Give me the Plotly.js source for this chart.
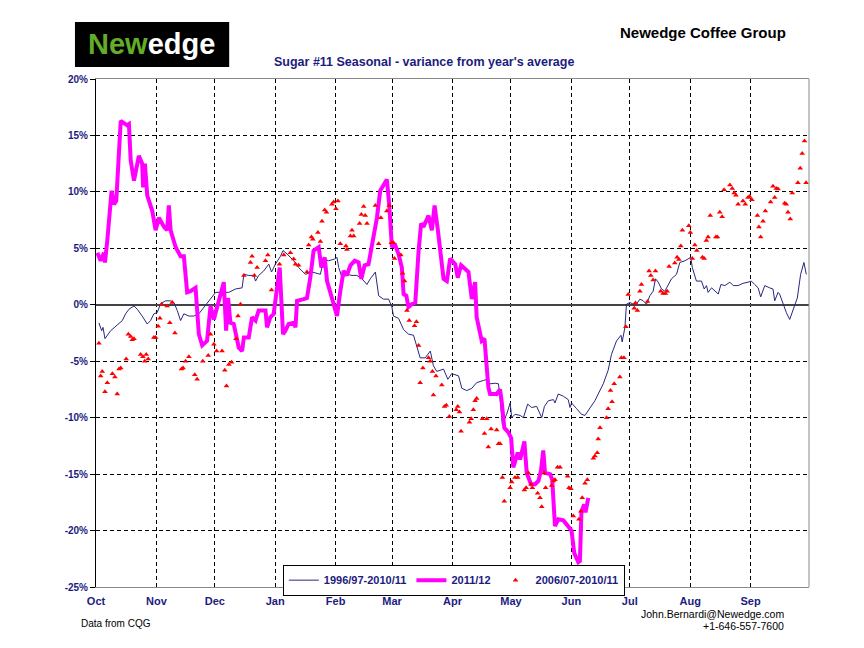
<!DOCTYPE html>
<html>
<head>
<meta charset="utf-8">
<script src="https://cdn.plot.ly/plotly-3.0.1.min.js"></script>
<style>html,body{margin:0;padding:0;background:#fff;}#chart{width:864px;height:648px;}</style>
</head>
<body>
<div id="chart"></div>
<script>
// Month labels and their day offsets within the season (Oct 1 = day 0)
const monthLabels = ['Oct','Nov','Dec','Jan','Feb','Mar','Apr','May','Jun','Jul','Aug','Sep'];
const monthStartDays = [0,31,61,92,123,152,183,213,244,274,305,336];
const yTickVals = [-25,-20,-15,-10,-5,0,5,10,15,20];
const yTickText = ['-25%','-20%','-15%','-10%','-5%','0%','5%','10%','15%','20%'];

// Series 1: 1996/97-2010/11 average (navy line)
const avgName = '1996/97-2010/11';
const avgDays = [1.5,2.9,3.6,4.6,7.5,10.1,11.8,13.5,15.2,16.9,19.5,21.2,23.7,26.3,28.0,29.7,31.4,33.2,35.7,38.3,40.0,41.7,43.4,45.1,47.7,50.2,52.8,55.4,57.9,61.4,64.7,68.2,71.6,75.0,75.9,78.4,81.0,81.9,83.5,86.1,88.7,90.1,92.1,94.7,96.0,98.1,101.5,104.0,107.5,110.9,115.2,116.9,119.4,122.5,123.7,124.6,126.3,128.8,131.4,133.9,136.5,139.1,140.8,143.4,145.1,147.6,150.2,151.9,152.7,155.3,157.9,160.4,163.0,164.7,166.4,169.0,171.6,173.2,174.9,178.4,180.6,182.6,186.1,187.8,190.3,192.9,195.4,198.9,201.1,202.3,204.9,206.6,207.4,208.6,210.8,212.6,213.4,215.1,217.7,219.4,221.6,223.6,226.2,228.8,230.2,232.2,234.8,235.6,237.3,239.9,242.4,243.3,244.1,246.7,249.2,251.0,253.6,256.1,257.8,260.4,262.9,264.6,267.2,269.5,270.1,271.5,272.3,274.1,275.8,277.4,279.2,280.9,282.6,284.3,286.0,287.2,288.6,290.3,292.0,293.7,295.4,298.0,299.7,302.3,305.3,306.1,308.2,310.8,312.2,313.4,314.2,316.0,317.7,319.4,320.8,322.8,325.4,327.1,329.6,332.1,334.7,336.4,338.1,339.9,341.2,343.3,345.8,347.5,348.4,350.1,350.9,352.7,354.4,356.1,358.3,360.0,361.7,363.4,364.6];
const avgVals = [-1.6,-2.3,-2.0,-3.0,-2.3,-1.9,-1.6,-1.4,-0.8,-0.4,-0.1,-0.4,-1.0,-1.7,-1.4,-0.8,-0.7,0.1,0.35,0.35,0.2,-0.5,-1.4,-0.8,-1.0,-1.0,-0.8,-0.2,0.35,1.1,1.1,1.1,1.4,1.5,2.7,2.6,2.6,2.1,2.6,3.0,3.6,2.9,3.6,4.3,4.8,4.5,3.9,3.3,2.7,2.9,2.7,4.05,3.9,4.05,4.2,3.3,2.4,2.7,2.6,2.6,2.3,1.8,2.3,2.9,0.8,0.5,0.5,-0.2,-1.0,-1.2,-2.2,-2.6,-2.7,-3.6,-4.7,-4.7,-4.1,-5.4,-5.9,-5.7,-6.6,-6.1,-6.3,-7.4,-7.6,-7.4,-6.9,-6.7,-6.6,-7.0,-6.95,-7.0,-8.2,-10.6,-9.7,-8.7,-10.0,-9.7,-9.8,-10.0,-8.8,-9.1,-9.0,-10.0,-9.0,-8.5,-8.4,-8.7,-7.9,-8.1,-8.4,-9.1,-8.7,-9.2,-9.7,-9.8,-9.1,-8.5,-7.9,-7.0,-5.8,-4.4,-3.2,-2.7,-3.3,-2.0,0.05,0.2,0.05,0.05,0.5,0.35,0.05,0.8,1.2,2.3,2.0,1.4,1.2,1.7,2.3,2.7,3.75,3.9,4.2,3.3,2.1,2.1,1.4,1.7,1.1,1.5,1.2,0.95,1.8,1.7,2.0,1.7,1.7,1.9,2.0,2.1,1.8,1.5,0.7,1.7,1.5,1.4,0.35,1.1,0.95,0.05,-0.7,-1.3,-0.2,0.6,2.7,3.75,2.7];

// Series 2: 2011/12 (magenta thick line)
const curName = '2011/12';
const curDays = [0.7,2.4,4.1,4.6,5.8,8.0,9.2,10.4,12.7,14.9,16.0,16.9,17.8,19.5,22.0,23.7,24.2,25.1,26.3,28.9,30.6,32.3,34.9,36.5,37.4,38.3,40.9,43.4,45.1,46.8,48.5,51.1,52.8,54.5,57.0,58.8,60.5,62.2,64.7,65.6,66.8,67.8,69.0,70.7,73.3,75.0,75.9,78.4,80.1,81.9,83.5,87.0,87.8,89.5,91.2,92.9,94.3,96.0,97.2,98.9,101.5,102.4,103.2,106.6,108.3,110.0,111.7,114.3,115.7,117.4,118.6,121.1,123.7,125.4,127.1,128.8,130.6,132.8,134.8,136.2,137.9,139.9,142.5,144.2,145.9,149.3,150.5,151.9,153.3,155.3,157.0,157.9,159.3,160.4,162.1,163.9,165.6,166.9,168.1,170.7,172.4,173.8,175.5,178.4,180.1,181.8,184.4,185.7,187.4,191.2,192.9,194.6,195.4,198.0,199.4,200.6,201.4,202.3,205.7,207.4,208.2,209.6,211.7,213.1,214.2,216.5,217.7,219.9,221.1,223.3,225.4,227.1,228.4,229.6,230.5,233.1,234.2,235.6,237.3,239.9,242.4,244.1,245.5,247.6,248.4,249.2,250.6,251.3,252.7];
const curVals = [4.6,3.9,4.6,3.75,5.7,10.1,8.9,9.2,16.3,16.0,15.9,16.0,12.8,11.0,13.2,12.5,10.4,12.5,9.7,8.3,6.6,7.7,6.9,6.6,8.8,6.6,5.1,4.3,4.3,1.1,1.2,1.5,-2.6,-3.6,-3.2,-0.1,-1.3,-0.2,1.7,2.0,-2.3,0.6,-1.6,-1.7,-3.8,-4.1,-2.9,-2.9,-1.1,-1.4,-0.5,-0.5,-2.0,-1.1,-0.8,1.5,3.3,-2.6,-2.3,-1.7,-1.6,-2.0,0.35,0.5,0.6,2.4,4.8,5.1,3.3,4.2,2.1,0.6,-1.0,1.2,3.0,2.6,3.5,3.9,3.75,2.3,3.5,3.6,6.3,7.7,10.1,11.1,8.9,5.1,5.4,4.5,3.3,0.95,0.8,-0.2,0.05,0.2,4.8,7.2,6.9,7.9,6.6,8.8,6.6,2.3,2.1,4.1,3.6,2.4,3.5,2.9,0.5,2.0,-1.1,-3.2,-3.0,-5.3,-7.3,-7.9,-7.9,-7.5,-8.5,-10.9,-11.3,-11.8,-14.4,-13.1,-13.7,-12.1,-14.9,-15.9,-15.9,-15.6,-14.7,-12.9,-14.9,-15.0,-15.5,-19.6,-19.0,-19.1,-19.6,-20.0,-22.0,-22.8,-22.7,-18.3,-17.7,-18.4,-17.1];

// Series 3: 2006/07-2010/11 average (red triangles)
const recName = '2006/07-2010/11';
const recDays = [1.5,2.4,3.2,4.6,5.8,8.4,9.7,10.9,11.8,12.7,15.5,16.6,17.8,18.6,19.5,22.9,24.1,25.0,25.8,26.8,29.7,30.6,31.9,32.8,33.7,36.5,37.9,39.1,40.5,43.9,44.7,46.0,47.7,50.7,51.9,54.8,57.6,58.8,60.5,61.9,64.7,66.1,67.0,68.2,69.6,71.9,72.9,74.2,75.9,79.3,80.1,81.3,82.7,87.0,88.2,90.1,94.2,96.4,99.8,101.5,102.4,104.0,108.3,109.2,110.6,111.3,113.9,115.2,116.0,117.4,118.3,121.1,122.0,123.2,124.2,125.4,128.3,128.8,130.6,131.4,132.3,135.3,136.2,137.4,138.2,139.1,143.4,145.1,146.2,149.3,150.5,151.6,152.7,153.2,156.5,157.4,158.4,159.6,160.8,163.5,164.5,165.6,166.4,167.8,170.7,171.5,172.7,173.2,174.5,177.5,178.9,179.8,181.4,184.9,185.7,186.6,187.4,191.7,192.6,193.7,194.6,195.4,198.4,199.4,200.6,201.4,202.8,205.7,206.6,207.4,208.6,209.6,212.6,213.4,215.1,216.5,219.9,220.8,221.9,223.3,224.0,226.7,227.9,228.8,230.0,230.8,233.9,234.8,235.6,236.9,238.2,242.1,242.8,243.8,245.0,247.9,248.9,249.6,251.0,252.2,255.3,256.1,257.3,257.8,258.7,262.1,262.9,264.1,264.9,266.0,268.9,269.7,271.0,272.0,273.2,276.3,276.9,277.9,279.2,280.0,283.1,283.9,284.8,286.0,287.2,289.9,291.1,292.3,293.2,294.2,297.1,298.3,299.2,300.2,301.0,304.3,305.1,306.1,307.4,308.4,311.3,312.2,313.3,314.2,315.3,318.2,319.0,320.2,321.4,322.4,325.4,326.6,327.6,328.5,329.6,332.1,333.3,334.7,335.5,336.7,339.5,340.3,341.2,342.4,343.6,346.3,347.5,348.4,349.2,350.1,353.5,354.3,355.2,356.4,357.4,360.3,361.5,362.5,363.7,364.5];
const recVals = [-3.4,-6.3,-5.9,-7.7,-6.9,-6.1,-6.4,-7.9,-5.7,-5.6,-4.8,-2.6,-2.8,-3.1,-3.0,-4.4,-4.6,-5.0,-4.4,-4.8,-2.9,-2.9,-1.9,-1.2,0.05,-0.1,-1.6,0.2,-2.5,-5.7,-5.6,-5.0,-4.6,-6.2,-6.6,-5.0,-4.5,-2.6,-3.5,-4.1,-4.1,-5.8,-7.2,-5.3,-5.1,-3.0,-1.0,0.05,2.6,3.75,4.3,2.6,3.3,3.9,4.4,1.3,3.6,4.4,4.6,4.05,3.6,3.5,2.9,5.3,6.0,5.8,6.4,5.6,7.4,8.4,8.2,8.9,9.1,8.5,9.2,5.4,5.2,4.9,6.1,6.6,6.1,7.2,8.0,8.7,7.9,7.2,8.8,5.4,7.7,8.3,8.8,5.5,5.5,4.1,4.4,2.8,2.1,-0.5,-1.4,-1.85,-1.5,-3.6,-6.9,-5.6,-4.7,-5.0,-5.9,-8.0,-6.3,-7.1,-9.0,-8.9,-9.9,-9.3,-9.0,-9.5,-11.2,-10.4,-10.1,-9.3,-8.5,-8.3,-10.1,-11.4,-10.1,-12.6,-11.0,-11.1,-12.3,-12.3,-15.3,-17.4,-16.2,-15.7,-15.3,-15.3,-16.4,-16.2,-14.9,-15.9,-16.2,-16.7,-17.1,-17.9,-14.9,-16.2,-16.0,-15.6,-15.5,-14.4,-14.4,-15.2,-16.2,-16.3,-18.7,-19.0,-18.3,-17.1,-15.8,-15.5,-13.6,-13.4,-13.1,-11.9,-10.9,-10.0,-9.2,-7.6,-8.6,-7.0,-6.4,-4.7,-4.7,-1.95,0.9,-0.3,0.15,-0.5,1.2,1.8,0.3,3.0,2.6,2.2,3.0,1.2,1.0,1.0,1.2,3.4,3.7,4.2,4.0,5.2,6.6,7.0,6.4,4.1,5.3,4.8,4.2,4.1,5.7,6.0,7.9,6.0,6.0,8.2,7.8,10.2,10.6,10.3,9.9,9.7,8.9,9.2,8.9,9.5,9.6,9.3,7.9,6.9,6.0,7.4,8.3,9.1,10.5,9.5,10.3,10.25,9.0,8.9,8.2,7.6,9.9,10.8,12.1,13.4,14.5,10.8];

const NAVY = '#1c1c80';
const FONT = '"Liberation Sans", Arial, Helvetica, sans-serif';

const traces = [
  {x: avgDays, y: avgVals, name: avgName, type: 'scatter', mode: 'lines',
   line: {color: '#27277f', width: 1}},
  {x: curDays, y: curVals, name: curName, type: 'scatter', mode: 'lines',
   line: {color: '#ff00ff', width: 4}},
  {x: recDays, y: recVals, name: recName, type: 'scatter', mode: 'markers',
   marker: {symbol: 'triangle-up', size: 5, color: '#ff0000'}}
];

const layout = {
  width: 864, height: 648,
  margin: {l: 96, r: 55, t: 79, b: 61, pad: 0},
  paper_bgcolor: '#ffffff', plot_bgcolor: '#ffffff',
  font: {family: FONT, color: NAVY},
  showlegend: true,
  legend: {orientation: 'h', x: 0.262, xanchor: 'left', y: 0.044, yanchor: 'top',
    bgcolor: '#ffffff', bordercolor: '#000000', borderwidth: 1,
    font: {family: FONT, size: 11, color: NAVY, weight: 'bold'},
    itemwidth: 30, tracegroupgap: 0},
  xaxis: {range: [0, 366], tickvals: monthStartDays, ticktext: monthLabels,
    showgrid: true, gridcolor: '#000000', gridwidth: 1, griddash: '4px,3px',
    zeroline: false, showline: true, linecolor: '#8a8a8a', linewidth: 1, mirror: true,
    ticks: 'outside', ticklen: 4, tickcolor: 'rgba(0,0,0,0)',
    tickfont: {family: FONT, size: 11, color: NAVY, weight: 'bold'}, fixedrange: true},
  yaxis: {range: [-25, 20], tickvals: yTickVals, ticktext: yTickText,
    showgrid: true, gridcolor: '#000000', gridwidth: 1, griddash: '4px,3px',
    zeroline: true, zerolinecolor: '#444444', zerolinewidth: 1.5,
    showline: true, linecolor: '#000000', linewidth: 1,
    ticks: 'outside', ticklen: 5, tickcolor: '#000000', tickwidth: 1,
    tickfont: {family: FONT, size: 10, color: NAVY, weight: 'bold'}, fixedrange: true},
  shapes: [
    {type: 'line', xref: 'paper', yref: 'paper', x0: 1, x1: 1, y0: 0, y1: 1,
     line: {color: '#8a8a8a', width: 1}},
    {type: 'rect', xref: 'paper', yref: 'paper', x0: -0.0295, x1: 0.1868, y0: 1.0236, y1: 1.1122,
     fillcolor: '#000000', line: {width: 0}}
  ],
  annotations: [
    {xref: 'paper', yref: 'paper', x: 0.0775, y: 1.068, xanchor: 'center', yanchor: 'middle',
     text: '<span style="color:#63ad28">New</span>edge', showarrow: false,
     font: {family: FONT, size: 29, color: '#ffffff', weight: 'bold'}},
    {xref: 'paper', yref: 'paper', x: 0.9705, y: 1.0906, xanchor: 'right', yanchor: 'middle',
     text: 'Newedge Coffee Group', showarrow: false,
     font: {family: FONT, size: 15, color: '#000000', weight: 'bold'}},
    {xref: 'paper', yref: 'paper', x: 0.4607, y: 1.0335, xanchor: 'center', yanchor: 'middle',
     text: "Sugar #11 Seasonal - variance from year's average", showarrow: false,
     font: {family: FONT, size: 12.5, color: NAVY, weight: 'bold'}},
    {xref: 'paper', yref: 'paper', x: -0.0239, y: -0.0728, xanchor: 'left', yanchor: 'middle',
     text: 'Data from CQG', showarrow: false,
     font: {family: FONT, size: 10, color: '#000000'}},
    {xref: 'paper', yref: 'paper', x: 0.9677, y: -0.0525, xanchor: 'right', yanchor: 'middle',
     text: 'John.Bernardi@Newedge.com', showarrow: false,
     font: {family: FONT, size: 10.5, color: '#000000'}},
    {xref: 'paper', yref: 'paper', x: 0.9677, y: -0.077, xanchor: 'right', yanchor: 'middle',
     text: '+1-646-557-7600', showarrow: false,
     font: {family: FONT, size: 10.5, color: '#000000'}}
  ]
};

Plotly.newPlot('chart', traces, layout, {displayModeBar: false, staticPlot: true});
</script>
</body>
</html>
